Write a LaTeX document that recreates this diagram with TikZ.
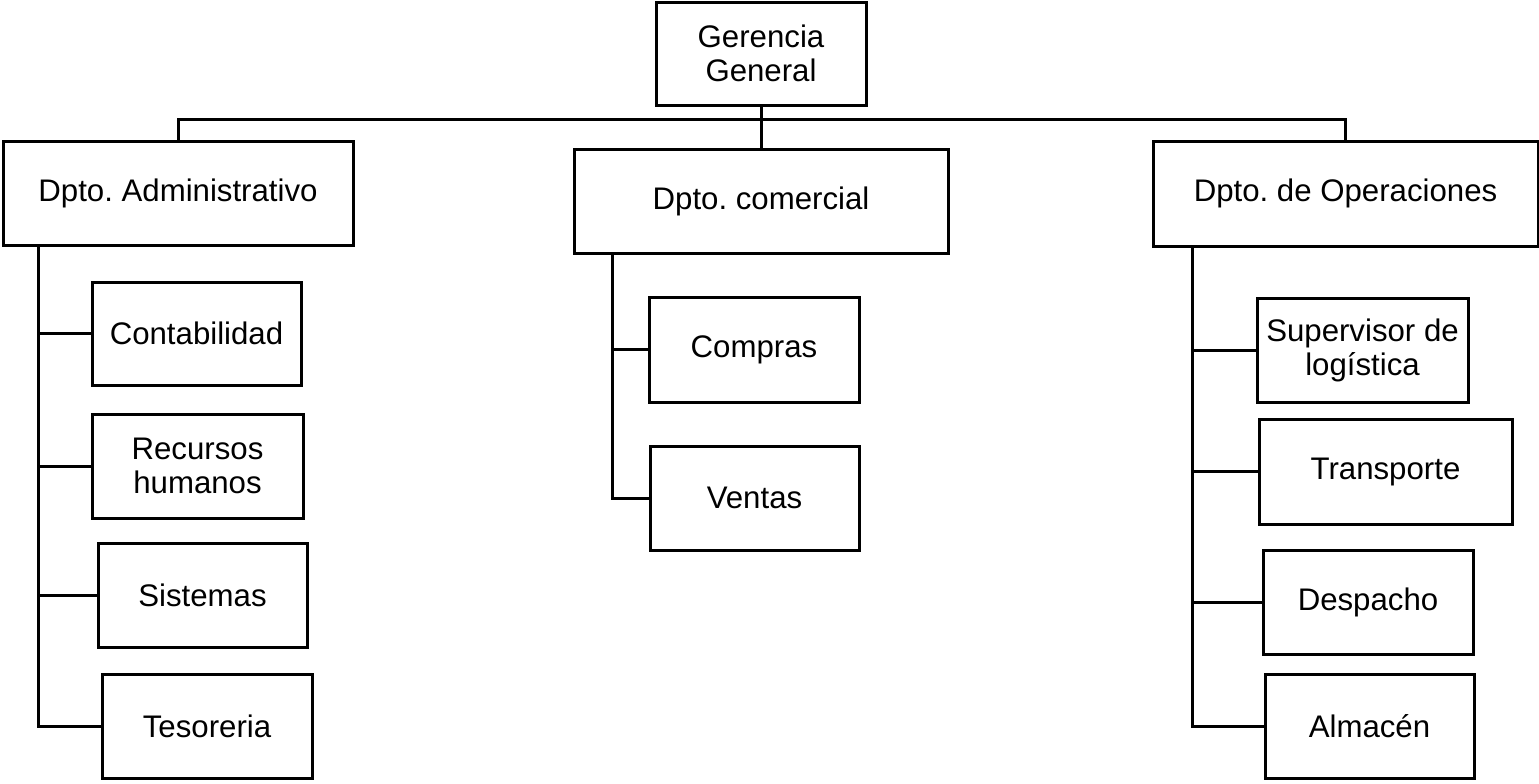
\documentclass[tikz,border=0pt]{standalone}
\usepackage{fontspec}
\setmainfont{Liberation Sans}
\frenchspacing
\begin{document}
% organisation chart; one unit = one pixel of a 1539x783 canvas, y grows downward
\begin{tikzpicture}[x=0.5pt,y=-0.5pt,
  unit/.style={draw=black, line width=1.5pt, fill=white, inner sep=0pt,
    align=center, font=\fontsize{15.6}{17}\selectfont},
  link/.style={draw=black, line width=1.5pt}]
\useasboundingbox (0,0) rectangle (1539,783);

% head
\node[unit, minimum width=105pt, minimum height=51.5pt] (gg) at (761,53.5) {Gerencia\\General};

% departments
\node[unit, minimum width=175pt, minimum height=52pt] (adm) at (178,193) {Dpto. Administrativo};
\node[unit, minimum width=187pt, minimum height=52pt] (com) at (761,201) {Dpto. comercial};
\node[unit, minimum width=192.5pt, minimum height=52.5pt] (ope) at (1345.5,193.5) {Dpto. de Operaciones};

% administrative units
\node[unit, minimum width=104.5pt, minimum height=51.5pt] (conta) at (196.5,333.5) {Contabilidad};
\node[unit, minimum width=105.5pt, minimum height=52pt] (rrhh) at (197.5,466) {Recursos\\humanos};
\node[unit, minimum width=104.5pt, minimum height=52pt] (sist) at (202.5,595) {Sistemas};
\node[unit, minimum width=105pt, minimum height=52pt] (teso) at (207,726) {Tesoreria};

% commercial units
\node[unit, minimum width=105pt, minimum height=52.5pt] (compras) at (754,349.5) {Compras};
\node[unit, minimum width=104.5pt, minimum height=52pt] (ventas) at (754.5,498) {Ventas};

% operations units
\node[unit, minimum width=105.5pt, minimum height=52pt] (sup) at (1362.5,350) {Supervisor de\\logística};
\node[unit, minimum width=126.5pt, minimum height=52.5pt] (transp) at (1385.5,471.5) {Transporte};
\node[unit, minimum width=105pt, minimum height=52pt] (desp) at (1368,602) {Despacho};
\node[unit, minimum width=104.5pt, minimum height=52pt] (alm) at (1369.5,726) {Almacén};

% helper coordinates for the bus and the vertical spines
\coordinate (bus) at (0,119);
\coordinate (spa) at (38,0);
\coordinate (spc) at (612,0);
\coordinate (spo) at (1192,0);

% head to departments
\draw[link] (gg.south) -- (com.north);
\draw[link] (adm.north) |- (gg.south |- bus) -| (ope.north);

% administrative spine
\draw[link] (adm.south -| spa) |- (teso.west);
\draw[link] (conta.west) -- (conta.west -| spa);
\draw[link] (rrhh.west) -- (rrhh.west -| spa);
\draw[link] (sist.west) -- (sist.west -| spa);

% commercial spine
\draw[link] (com.south -| spc) |- (ventas.west);
\draw[link] (compras.west) -- (compras.west -| spc);

% operations spine
\draw[link] (ope.south -| spo) |- (alm.west);
\draw[link] (sup.west) -- (sup.west -| spo);
\draw[link] (transp.west) -- (transp.west -| spo);
\draw[link] (desp.west) -- (desp.west -| spo);
\end{tikzpicture}
\end{document}
